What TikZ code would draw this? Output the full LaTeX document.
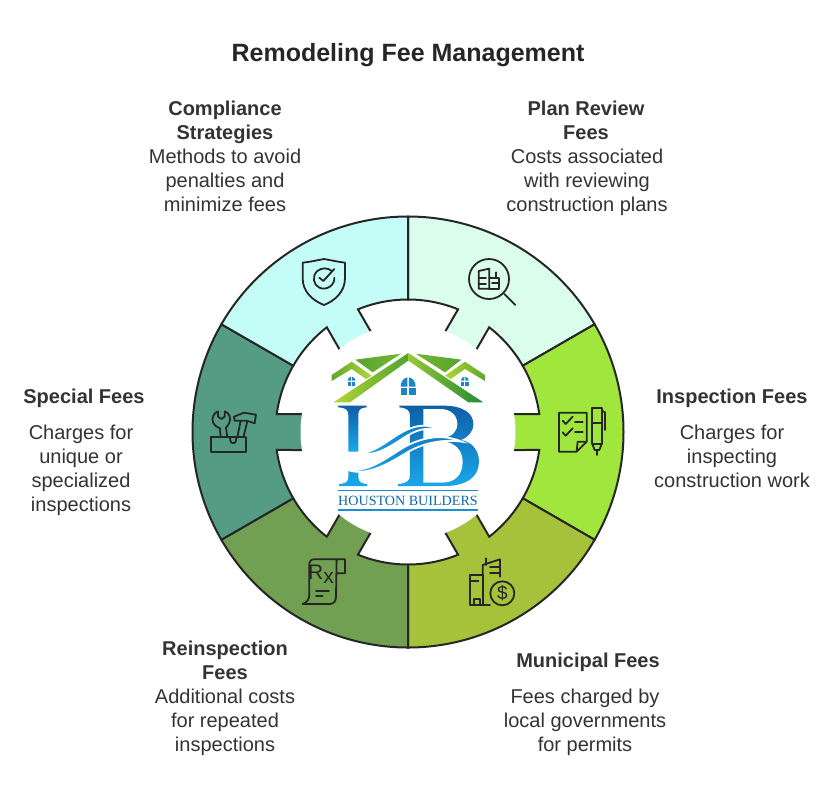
\documentclass[tikz,border=0pt]{standalone}
\usepackage{fontspec}
\setmainfont{Liberation Sans}
\newfontfamily\logofont{Liberation Serif}
\definecolor{inkc}{HTML}{262626}
\definecolor{txtc}{HTML}{333333}
\definecolor{segA}{HTML}{DBFDEC}
\definecolor{segB}{HTML}{A1E63C}
\definecolor{segC}{HTML}{A5C23A}
\definecolor{segD}{HTML}{72A052}
\definecolor{segE}{HTML}{549C83}
\definecolor{segF}{HTML}{C4FDF8}
\definecolor{blueD}{HTML}{0F5FA6}
\definecolor{blueL}{HTML}{19A8EA}
\definecolor{blueW}{HTML}{1A86C8}
\definecolor{grnD}{HTML}{1F8A35}
\definecolor{grnM}{HTML}{5FA82F}
\definecolor{grnL}{HTML}{B2D634}
\newcommand{\ringseg}[2]{%
  \begin{scope}[shift={(408,-432)},rotate=#1]
    \path[fill=#2,draw=inkc,line width=2pt,line join=miter]
      (-30:215.5) arc[start angle=-30,end angle=30,radius=215.5]
      -- (30:132.5) arc[start angle=30,end angle=7.8,radius=132.5]
      -- (100,18) -- (100,-18) -- (-7.8:132.5)
      arc[start angle=-7.8,end angle=-30,radius=132.5] -- cycle;
  \end{scope}}
\newcommand{\lnn}[1]{\strut #1}
\tikzset{
  x=1pt,y=1pt,
  heading/.style={font=\fontsize{20}{24}\selectfont\bfseries,text=txtc,align=center,inner sep=0pt},
  bodytext/.style={font=\fontsize{20}{24}\selectfont,text=txtc,align=center,inner sep=0pt},
  iconline/.style={draw=inkc,line width=1.8pt,line join=round,line cap=round},
  zoomA/.style={shift={(#1)},x=0.3333pt,y=-0.3333pt},
  wave/.style={draw=white,line width=1.8pt,top color=blueD!60!blueL,bottom color=blueL},
  letter/.style={top color=blueD,bottom color=blueL,draw=none},
}
\begin{document}
\begin{tikzpicture}
\useasboundingbox (0,-804) rectangle (840,0);
\fill[white] (0,-804) rectangle (840,0);

\ringseg{60}{segA}
\ringseg{0}{segB}
\ringseg{-60}{segC}
\ringseg{-120}{segD}
\ringseg{180}{segE}
\ringseg{120}{segF}
\fill[white] (408,-432) circle[radius=107.5];

% texts
\node[font=\fontsize{25}{28}\selectfont\bfseries,text=inkc,inner sep=0pt] (title) at (408,-55) {Remodeling Fee Management};
\node[heading] (h1) at (225,-123) {\lnn{Compliance}\\\lnn{Strategies}};
\node[bodytext] (b1) at (225,-183) {\lnn{Methods to avoid}\\\lnn{penalties and}\\\lnn{minimize fees}};
\node[heading] (h2) at (586,-123) {\lnn{Plan Review}\\\lnn{Fees}};
\node[bodytext] (b2) at (587,-183) {\lnn{Costs associated}\\\lnn{with reviewing}\\\lnn{construction plans}};
\node[heading] (h3) at (732,-399) {\lnn{Inspection Fees}};
\node[bodytext] (b3) at (732,-459) {\lnn{Charges for}\\\lnn{inspecting}\\\lnn{construction work}};
\node[heading] (h4) at (588,-663) {\lnn{Municipal Fees}};
\node[bodytext] (b4) at (585,-723) {\lnn{Fees charged by}\\\lnn{local governments}\\\lnn{for permits}};
\node[heading] (h5) at (225,-663) {\lnn{Reinspection}\\\lnn{Fees}};
\node[bodytext] (b5) at (225,-723) {\lnn{Additional costs}\\\lnn{for repeated}\\\lnn{inspections}};
\node[heading] (h6) at (84,-399) {\lnn{Special Fees}};
\node[bodytext] (b6) at (81,-471) {\lnn{Charges for}\\\lnn{unique or}\\\lnn{specialized}\\\lnn{inspections}};

% shield icon
\begin{scope}[zoomA={180,-210}]
  \path[iconline] (368,158) .. controls (395,155) and (415,150) .. (432,147) .. controls (450,150) and (470,155) .. (495,158)
    -- (495,205) .. controls (495,245) and (465,272) .. (432,285) .. controls (398,272) and (368,245) .. (368,205) -- cycle;
  \path[iconline] (455,183) .. controls (445,173) and (425,172) .. (412,183) .. controls (395,198) and (400,225) .. (418,233)
    .. controls (440,243) and (465,225) .. (463,203);
  \path[iconline] (418,203) -- (430,213) -- (463,177);
\end{scope}

% plan review icon
\begin{scope}[zoomA={410,-210}]
  \path[iconline] (283,252) -- (316,285);
  \path[iconline] (206,236) -- (206,183) -- (238,176) -- (238,236) -- cycle;
  \path[iconline] (238,205) -- (268,205) -- (268,236) -- (238,236);
  \path[iconline] (258,187) -- (258,205);
  \path[iconline] (206,205) -- (228,205);
  \path[iconline] (206,221) -- (228,221);
  \path[iconline] (246,220) -- (268,220);
\end{scope}
\draw[iconline] (489,-279) circle[radius=20];

% checklist icon
\begin{scope}[zoomA={550,-400}]
  \path[iconline] (80,155) -- (27,155) -- (27,38) -- (110,38) -- (110,125) -- (80,155) -- (83,125) -- (110,125);
  \path[iconline] (38,62) -- (47,72) -- (68,50);
  \path[iconline] (38,97) -- (47,107) -- (68,85);
  \path[iconline] (75,67) -- (98,67);
  \path[iconline] (75,97) -- (98,97);
  \path[iconline] (127,132) -- (127,25) -- (155,25) -- (155,132) -- cycle;
  \path[iconline] (127,70) -- (155,70);
  \path[iconline] (155,32) -- (165,37) -- (165,90);
  \path[iconline] (127,132) -- (134,150) -- (148,150) -- (155,132);
  \path[iconline] (141,150) -- (141,165);
\end{scope}

% municipal icon
\begin{scope}[zoomA={410,-430}]
  \path[iconline] (240,525) -- (180,525) -- (180,435) -- (218,435) -- (218,525);
  \path[iconline] (192,525) -- (192,508) -- (210,508) -- (210,525);
  \path[iconline] (185,452) -- (205,452);
  \path[iconline] (218,435) -- (218,405) -- (270,388) -- (270,440);
  \path[iconline] (228,385) -- (228,405);
  \path[iconline] (240,410) -- (270,410);
  \path[iconline] (240,428) -- (270,428);
\end{scope}
\draw[iconline] (502.3,-593.3) circle[radius=12];
\node[font=\fontsize{19}{19}\selectfont,text=inkc,inner sep=0pt] (dollar) at (502.3,-593.3) {\$};

% prescription icon
\begin{scope}[zoomA={180,-430}]
  \path[iconline] (470,430) -- (495,430) -- (495,388) -- (402,388) .. controls (392,388) and (388,395) .. (388,405)
    -- (388,495) .. controls (388,510) and (378,518) .. (368,522) -- (450,522) .. controls (462,522) and (468,512) .. (468,500) -- (470,388);
  \path[iconline] (408,482) -- (447,482);
  \path[iconline] (408,498) -- (428,498);
\end{scope}
\node[font=\fontsize{21}{21}\selectfont,text=inkc,inner sep=0pt] (rx) at (321,-574) {R\raisebox{-4pt}{x}};

% tools icon
\begin{scope}[zoomA={200,-400}]
  \path[iconline] (32,112) rectangle (138,157);
  \path[iconline] (62,112) -- (60,85) .. controls (42,80) and (32,62) .. (40,47) .. controls (43,40) and (48,36) .. (54,34)
    -- (54,50) -- (64,57) -- (74,50) -- (74,34) .. controls (88,38) and (94,55) .. (88,68) .. controls (85,76) and (80,80) .. (78,83) -- (82,112);
  \path[iconline] (90,112) -- (91,122) .. controls (92,132) and (107,132) .. (108,122) -- (109,112);
  \path[iconline] (102,50) -- (132,38) -- (168,44) -- (164,70) -- (140,62) -- (104,62) -- cycle;
  \path[iconline] (122,62) -- (112,112);
  \path[iconline] (142,64) -- (130,112);
\end{scope}

% logo roof
\begin{scope}[zoomA={330,-345}]
  \shade[left color=grnL,right color=grnM!80!grnD,draw=none] (235,24) -- (236,46) -- (60,172) -- (10,172) -- cycle;
  \shade[left color=grnL!70!grnM,right color=grnD,draw=none] (235,24) -- (460,172) -- (415,172) -- (234,46) -- cycle;
  \shade[left color=grnM!85!grnD,right color=grnM!70!grnL,draw=none] (76,44) -- (213,26) -- (128,82) -- cycle;
  \shade[left color=grnM!70!grnL,right color=grnM!85!grnD,draw=none] (257,26) -- (394,44) -- (345,82) -- cycle;
  \shade[left color=grnM,right color=grnL,draw=none] (5,90) -- (65,50) -- (125,92) -- (108,102) -- (65,72) -- (5,108) -- cycle;
  \shade[left color=grnL,right color=grnM,draw=none] (465,90) -- (405,50) -- (345,92) -- (362,102) -- (405,72) -- (465,108) -- cycle;
  % windows
  \fill[blueW] (232,125) -- (212,125) .. controls (212,110) and (220,100) .. (232,97) -- cycle;
  \fill[blueW] (237,125) -- (257,125) .. controls (257,110) and (249,100) .. (237,97) -- cycle;
  \fill[blueW] (212,130) rectangle (232,150);
  \fill[blueW] (237,130) rectangle (257,150);
  \fill[blueW] (63,107) -- (53,107) .. controls (53,101) and (57,96) .. (63,95) -- cycle;
  \fill[blueW] (66,107) -- (76,107) .. controls (76,101) and (72,96) .. (66,95) -- cycle;
  \fill[blueW] (53,110) rectangle (63,122);
  \fill[blueW] (66,110) rectangle (76,122);
  \fill[blueW] (403,107) -- (393,107) .. controls (393,101) and (397,96) .. (403,95) -- cycle;
  \fill[blueW] (406,107) -- (416,107) .. controls (416,101) and (412,96) .. (406,95) -- cycle;
  \fill[blueW] (393,110) rectangle (403,122);
  \fill[blueW] (406,110) rectangle (416,122);
\end{scope}

% logo letters
\begin{scope}[zoomA={330,-400}]
  % H upper stem
  \shade[letter] (25,17) -- (110,17) -- (110,22) .. controls (92,23) and (85,28) .. (85,45) -- (85,155) -- (55,155) -- (55,45)
     .. controls (55,28) and (45,23) .. (25,22) -- cycle;
  % H lower stem
  \shade[top color=blueL!80!blueD,bottom color=blueL,draw=none] (55,212) -- (85,212) -- (85,232) .. controls (85,246) and (95,251) .. (112,252) -- (112,258) -- (28,258) -- (28,252)
     .. controls (45,251) and (55,246) .. (55,232) -- cycle;
  % B
  \shade[letter] (208,17) -- (340,17) .. controls (400,17) and (430,40) .. (430,72) .. controls (430,95) and (415,112) .. (392,120)
     .. controls (425,125) and (447,150) .. (447,185) .. controls (447,230) and (410,258) .. (345,258) -- (205,258) -- (205,252)
     .. controls (228,250) and (240,244) .. (240,225) -- (240,48) .. controls (240,30) and (230,24) .. (208,22) -- cycle;
  \fill[white] (280,27) -- (330,27) .. controls (365,27) and (382,48) .. (382,72) .. controls (382,95) and (365,112) .. (335,114) -- (280,125) -- cycle;
  \fill[white] (280,135) -- (335,124) .. controls (375,125) and (398,152) .. (398,185) .. controls (398,225) and (375,248) .. (335,248) -- (280,248) -- cycle;
  % swooshes
  \path[wave] (80,158) .. controls (130,165) and (170,120) .. (225,92) .. controls (265,72) and (300,72) .. (332,92)
     .. controls (300,82) and (270,85) .. (235,105) .. controls (185,135) and (140,175) .. (80,158) -- cycle;
  \path[wave] (42,205) .. controls (110,225) and (165,175) .. (225,140) .. controls (290,105) and (350,105) .. (395,125)
     .. controls (345,118) and (290,125) .. (235,155) .. controls (170,195) and (100,235) .. (42,205) -- cycle;
  \draw[blueW!70!blueL,line width=1.5pt] (25,272) -- (445,272);
  \draw[blueW!70!blueL,line width=1.5pt] (25,330) -- (445,330);
\end{scope}
\node[font=\logofont\fontsize{14.1}{16}\selectfont,text=blueD!80!blueW,inner sep=0pt] (brand) at (408,-501) {HOUSTON BUILDERS};
\end{tikzpicture}
\end{document}
